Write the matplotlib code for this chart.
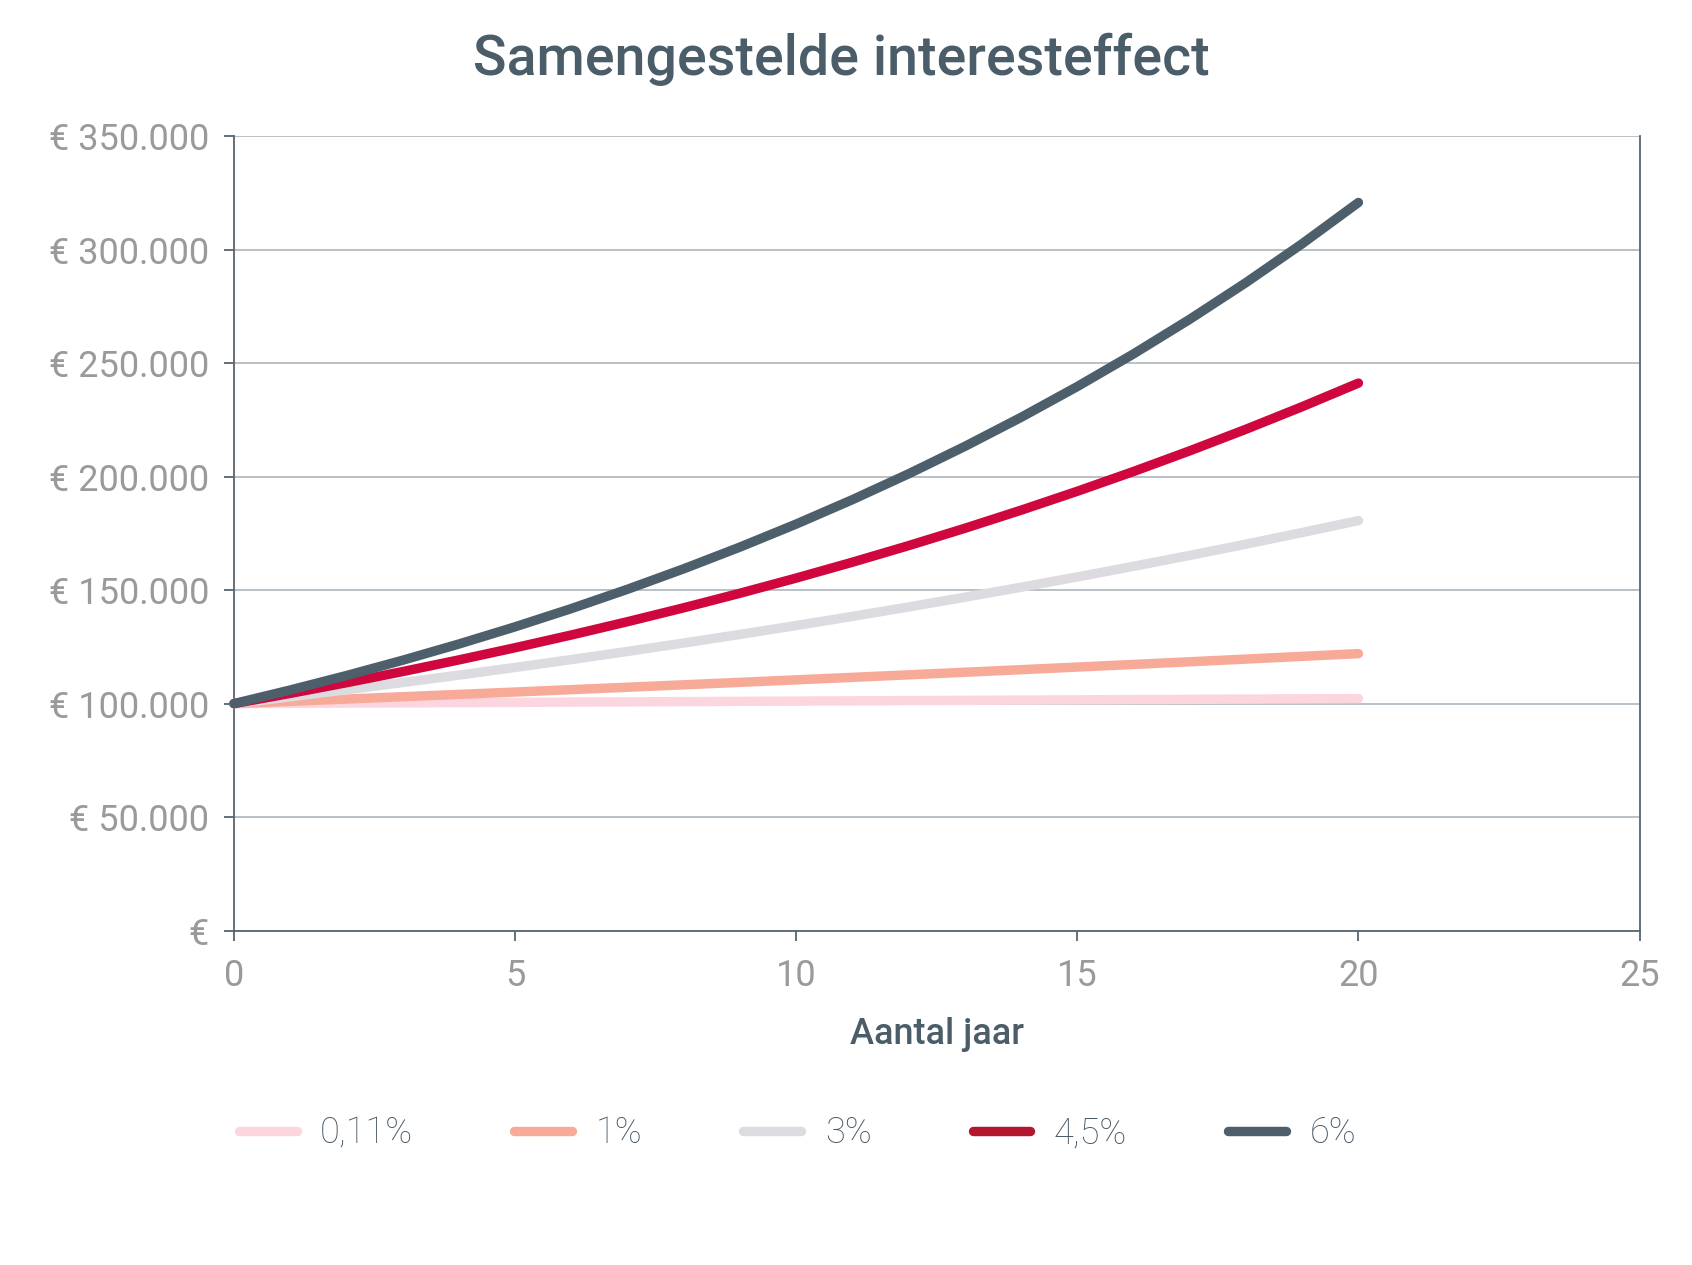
import matplotlib
matplotlib.use("Agg")
import matplotlib.pyplot as plt
from matplotlib.lines import Line2D
from matplotlib.ticker import FixedLocator, FixedFormatter

# ---- data ----
years = list(range(0, 21))
rate_labels = ["0,11%", "1%", "3%", "4,5%", "6%"]
r011 = [100000, 100110, 100220, 100330, 100440, 100551, 100661, 100772, 100883, 100994,
        101105, 101216, 101327, 101439, 101550, 101662, 101774, 101886, 101998, 102110, 102222]
r1 = [100000, 101000, 102010, 103030, 104060, 105101, 106152, 107214, 108286, 109369,
      110462, 111567, 112683, 113809, 114947, 116097, 117258, 118430, 119615, 120811, 122019]
r3 = [100000, 103000, 106090, 109273, 112551, 115927, 119405, 122987, 126677, 130477,
      134392, 138423, 142576, 146853, 151259, 155797, 160471, 165285, 170243, 175351, 180611]
r45 = [100000, 104500, 109203, 114117, 119252, 124618, 130226, 136086, 142210, 148610,
       155297, 162285, 169588, 177220, 185194, 193528, 202237, 211338, 220848, 230786, 241171]
r6 = [100000, 106000, 112360, 119102, 126248, 133823, 141852, 150363, 159385, 168948,
      179085, 189830, 201220, 213293, 226090, 239656, 254035, 269277, 285434, 302560, 320714]
series = [r011, r1, r3, r45, r6]

y_ticks = [0, 50000, 100000, 150000, 200000, 250000, 300000, 350000]
y_tick_labels = ["€", "€ 50.000", "€ 100.000", "€ 150.000", "€ 200.000",
                 "€ 250.000", "€ 300.000", "€ 350.000"]
x_ticks = [0, 5, 10, 15, 20, 25]

title = "Samengestelde interesteffect"
x_label = "Aantal jaar"

# ---- styles ----
line_colors = ["#fcd6de", "#f8aa99", "#dcdbe0", "#d0063f", "#4d5f6b"]
legend_colors = ["#fcd6de", "#f8aa99", "#dcdbe0", "#b3172f", "#4d5f6b"]
slate = "#4a5d69"
tick_grey = "#9a9a9a"
grid_col = "#b4bcc2"

fam = ["Roboto", "DejaVu Sans"]

L, R, B, T = 0.1383, 0.9690, 0.2643, 0.8925
fig = plt.figure(figsize=(16.92, 12.65), dpi=100)
ax = fig.add_axes([L, B, R - L, T - B])

for ys, c in zip(series, line_colors):
    ax.plot(years, ys, color=c, lw=6.8, solid_capstyle="round", solid_joinstyle="round",
            zorder=3, clip_on=False)

ax.set_xlim(0, 25)
ax.set_ylim(0, 350000)
ax.yaxis.set_major_locator(FixedLocator(y_ticks))
ax.yaxis.set_major_formatter(FixedFormatter(y_tick_labels))
ax.xaxis.set_major_locator(FixedLocator(x_ticks))

ax.grid(axis="y", color=grid_col, lw=1.3, zorder=1)
ax.set_axisbelow(True)
for s in ["left", "bottom", "right"]:
    ax.spines[s].set_color("#56666f")
    ax.spines[s].set_linewidth(1.3)
ax.spines["top"].set_visible(False)

ax.tick_params(axis="both", colors="#56666f", length=7, width=1.3, direction="out",
               labelcolor=tick_grey, labelsize=26)
ax.tick_params(axis="y", pad=11)
ax.tick_params(axis="x", pad=13)
for lab in ax.get_xticklabels() + ax.get_yticklabels():
    lab.set_fontfamily(fam)

fig.text(0.497, 0.953, title, ha="center", va="center",
         fontsize=40, fontweight="medium", color=slate, family=fam)
ax.set_xlabel(x_label, fontsize=26, fontweight="medium", color=slate, family=fam, labelpad=16)

handles = [Line2D([0], [0], color=c, lw=6.8, solid_capstyle="round") for c in legend_colors]
leg = fig.legend(handles, rate_labels, loc="center left", bbox_to_anchor=(0.122, 0.104),
                 ncol=5, frameon=False, handlelength=1.6, handletextpad=0.65,
                 columnspacing=2.8, prop={"family": fam, "size": 26, "weight": "light"})
for t in leg.get_texts():
    t.set_color("#475865")

fig.savefig("out.png", dpi=100, facecolor="white")
